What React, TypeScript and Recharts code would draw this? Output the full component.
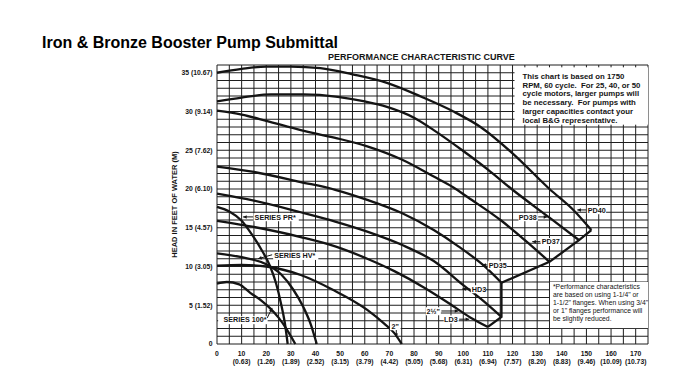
import React from 'react';
import { LineChart, Line, XAxis, YAxis, CartesianGrid, ReferenceArea, ReferenceDot } from 'recharts';

const FONT = '"Liberation Sans", Arial, Helvetica, sans-serif';
const INK = '#141414';

// pump curves, flow in US gpm / head in feet
const PD40_Q = [0, 10, 20, 30, 42, 55, 69, 83, 96, 107, 120, 135, 145, 152];
const PD40_H = [35.0, 35.5, 35.8, 35.8, 35.6, 34.8, 33.7, 31.9, 30.0, 28.0, 24.6, 20.0, 17.2, 14.7];

const PD38_Q = [0, 10, 22, 35, 49, 60, 69, 80, 88, 100, 110, 120, 135, 147];
const PD38_H = [31.3, 31.8, 32.2, 32.2, 31.9, 31.3, 30.6, 29.2, 27.6, 24.9, 22.5, 19.9, 16.3, 13.4];

const PD37_Q = [0, 10, 20, 34, 48, 61, 75, 88, 96, 102, 115.5, 125, 135];
const PD37_H = [30.1, 29.6, 28.8, 27.6, 26.6, 25.5, 23.8, 21.6, 20.2, 18.9, 15.9, 13.4, 10.6];

const PD35_Q = [0, 15, 34, 48, 61, 75, 88, 98, 108, 115.5];
const PD35_H = [22.9, 22.2, 20.9, 19.9, 18.6, 16.9, 14.7, 12.6, 10.2, 7.9];

const HD3_Q = [0, 15, 34, 48, 61, 75, 88, 100, 108, 115.5];
const HD3_H = [19.4, 18.5, 17.0, 15.8, 14.5, 12.8, 10.7, 7.6, 5.6, 3.5];

const LD3_Q = [0, 15, 34, 48, 61, 72, 84, 94, 103, 110];
const LD3_H = [15.9, 15.1, 13.8, 12.6, 11.0, 9.4, 7.3, 5.3, 3.4, 2.2];

const PR_Q = [0, 5, 10, 14, 18, 21.6, 24, 26, 27.5, 28.7];
const PR_H = [17.7, 17.1, 15.9, 14.2, 12.2, 10.0, 7.8, 5.2, 2.8, 0];

const HV_Q = [0, 10, 20, 26, 31, 35, 38, 40.5];
const HV_H = [11.7, 11.2, 10.3, 9.0, 7.0, 4.8, 2.6, 0];

const TWO_Q = [0, 10, 20, 34, 47, 61, 68, 72, 75];
const TWO_H = [10.1, 10.2, 10.0, 8.9, 7.0, 4.4, 2.6, 1.4, 0];

const S100_Q = [0, 4, 9, 13.5, 18, 21.6, 25, 28.5, 31.8];
const S100_H = [7.8, 8.0, 7.7, 6.6, 5.6, 4.6, 3.4, 1.8, 0];

// end-of-curve limit lines
const LOW_EDGE_Q = [110, 115.5, 115.5];
const LOW_EDGE_H = [2.2, 3.5, 7.9];
const TOP_EDGE_Q = [115.5, 135, 147, 152];
const TOP_EDGE_H = [7.9, 10.6, 13.4, 14.7];

// axes
const GRID_FLOW = [0, 5, 10, 15, 20, 25, 30, 35, 40, 45, 50, 55, 60, 65, 70, 75, 80, 85, 90, 95, 100, 105, 110, 115, 120, 125, 130, 135, 140, 145, 150, 155, 160, 165, 170, 175];
const GRID_HEAD = [0, 1, 2, 3, 4, 5, 6, 7, 8, 9, 10, 11, 12, 13, 14, 15, 16, 17, 18, 19, 20, 21, 22, 23, 24, 25, 26, 27, 28, 29, 30, 31, 32, 33, 34, 35, 36];
const FLOW_TICKS = [0, 10, 20, 30, 40, 50, 60, 70, 80, 90, 100, 110, 120, 130, 140, 150, 160, 170];
const FLOW_METRIC = ['', '(0.63)', '(1.26)', '(1.89)', '(2.52)', '(3.15)', '(3.79)', '(4.42)', '(5.05)', '(5.68)', '(6.31)', '(6.94)', '(7.57)', '(8.20)', '(8.83)', '(9.46)', '(10.09)', '(10.73)'];
const HEAD_TICKS = [0, 5, 10, 15, 20, 25, 30, 35];
const HEAD_METRIC = ['', '(1.52)', '(3.05)', '(4.57)', '(6.10)', '(7.62)', '(9.14)', '(10.67)'];

const NOTE_TOP = [
  'This chart is based on 1750',
  'RPM, 60 cycle.  For 25, 40, or 50',
  'cycle motors, larger pumps will',
  'be necessary.  For pumps with',
  'larger capacities contact your',
  'local B&G representative.',
];
const NOTE_BOTTOM = [
  '*Performance characteristics',
  'are based on using 1-1/4" or',
  '1-1/2" flanges. When using 3/4"',
  'or 1" flanges performance will',
  'be slightly reduced.',
];

const toPts = (q: number[], h: number[]) => q.map((v, i) => ({ q: v, h: h[i] }));

const CURVES = [
  { id: 'PD40', pts: toPts(PD40_Q, PD40_H), type: 'monotone' },
  { id: 'PD38', pts: toPts(PD38_Q, PD38_H), type: 'monotone' },
  { id: 'PD37', pts: toPts(PD37_Q, PD37_H), type: 'monotone' },
  { id: 'PD35', pts: toPts(PD35_Q, PD35_H), type: 'monotone' },
  { id: 'HD3', pts: toPts(HD3_Q, HD3_H), type: 'monotone' },
  { id: 'LD3', pts: toPts(LD3_Q, LD3_H), type: 'monotone' },
  { id: 'PR', pts: toPts(PR_Q, PR_H), type: 'monotone' },
  { id: 'HV', pts: toPts(HV_Q, HV_H), type: 'monotone' },
  { id: 'TWO', pts: toPts(TWO_Q, TWO_H), type: 'monotone' },
  { id: 'S100', pts: toPts(S100_Q, S100_H), type: 'monotone' },
  { id: 'LOW', pts: toPts(LOW_EDGE_Q, LOW_EDGE_H), type: 'linear' },
  { id: 'TOP', pts: toPts(TOP_EDGE_Q, TOP_EDGE_H), type: 'linear' },
];

// callouts: arrow tip sits on the curve (data coords)
const CALLOUTS = [
  { text: 'SERIES PR*', q: 10.6, h: 16.4, dir: 'left', len: 10 },
  { text: 'SERIES HV*', q: 16.7, h: 11.0, dir: 'hv', len: 14 },
  { text: 'SERIES 100*', q: 22.4, h: 4.65, dir: 'sw', len: 10 },
  { text: '2"', q: 72.8, h: 0.9, dir: 'down', len: 7 },
  { text: '2½"', q: 98, h: 4.26, dir: 'right', len: 17 },
  { text: 'LD3', q: 102.4, h: 3.2, dir: 'right', len: 10 },
  { text: 'HD3', q: 99.6, h: 7.1, dir: 'left', len: 8 },
  { text: 'PD35', q: 107.7, h: 10.2, dir: 'left', len: 5 },
  { text: 'PD37', q: 128, h: 13.2, dir: 'left', len: 8 },
  { text: 'PD38', q: 134.1, h: 16.4, dir: 'right', len: 9 },
  { text: 'PD40', q: 146.3, h: 17.3, dir: 'left', len: 9 },
];

const LABEL_SIZE = 7.2;
const labelStyle = { fontFamily: FONT, fontSize: LABEL_SIZE, fontWeight: 'bold' as const, fill: INK };

// white patch behind a callout label so the grid does not run through it
const Patch = ({ x, y, text, anchor }: any) => {
  const w = text.length * LABEL_SIZE * 0.6 + 2;
  const left = anchor === 'end' ? x - w + 1 : anchor === 'middle' ? x - w / 2 : x - 1;
  return <rect x={left} y={y - 6.3} width={w} height={8} fill="#fff" />;
};

const Callout = ({ cx, cy, text, dir, len }: any) => {
  if (cx == null || cy == null) return <g />;
  const head = (tx: number, ty: number, ang: number) => {
    const a = (ang * Math.PI) / 180;
    const p1 = [tx + 4 * Math.cos(a + 0.45), ty + 4 * Math.sin(a + 0.45)];
    const p2 = [tx + 4 * Math.cos(a - 0.45), ty + 4 * Math.sin(a - 0.45)];
    return <path d={`M${tx},${ty}L${p1[0]},${p1[1]}L${p2[0]},${p2[1]}Z`} fill={INK} />;
  };
  let shaft: [number, number, number, number];
  let ang: number;
  let tx: number;
  let ty: number;
  let anchor = 'start';
  if (dir === 'left') {
    shaft = [cx, cy, cx + len, cy];
    ang = 0;
    tx = cx + len + 1.5;
    ty = cy + 2.6;
  } else if (dir === 'right') {
    shaft = [cx - len, cy, cx, cy];
    ang = 180;
    tx = cx - len - 1.5;
    ty = cy + 2.6;
    anchor = 'end';
  } else if (dir === 'down') {
    shaft = [cx, cy - len, cx, cy];
    ang = -90;
    tx = cx - 1;
    ty = cy - len - 1.5;
    anchor = 'middle';
  } else if (dir === 'hv') {
    shaft = [cx, cy, cx + len, cy - 4];
    ang = -16;
    tx = cx + len + 2;
    ty = cy - 0.5;
  } else {
    shaft = [cx - 5, cy + len, cx, cy];
    ang = 117;
    tx = cx - 5.5;
    ty = cy + len + 4.5;
    anchor = 'end';
  }
  return (
    <g>
      <Patch x={tx} y={ty} text={text} anchor={anchor} />
      <line x1={shaft[0]} y1={shaft[1]} x2={shaft[2]} y2={shaft[3]} stroke={INK} strokeWidth={1} />
      {head(cx, cy, ang)}
      <text x={tx} y={ty} textAnchor={anchor as any} {...labelStyle}>{text}</text>
    </g>
  );
};

const FlowTick = ({ x, y, payload }: any) => {
  const i = FLOW_TICKS.indexOf(payload.value);
  if (i < 0) return <g />;
  const st = { fontFamily: FONT, fontSize: 6.8, fontWeight: 'bold' as const, fill: INK };
  return (
    <g>
      <text x={x} y={y + 12} textAnchor="middle" {...st}>{FLOW_TICKS[i]}</text>
      {FLOW_METRIC[i] && (
        <text x={x} y={y + 19.5} textAnchor="middle" {...st}>{FLOW_METRIC[i]}</text>
      )}
    </g>
  );
};

const HeadTick = ({ x, y, payload }: any) => {
  const i = HEAD_TICKS.indexOf(payload.value);
  if (i < 0) return <g />;
  const label = HEAD_METRIC[i] ? `${HEAD_TICKS[i]} ${HEAD_METRIC[i]}` : `${HEAD_TICKS[i]}`;
  return (
    <text x={x - 4.5} y={y + 2.4} textAnchor="end" fontFamily={FONT} fontSize={6.8} fontWeight="bold" fill={INK}>
      {label}
    </text>
  );
};

const NoteBox = ({ x, y, width, height, lines, bold, size, lead, padX, padY }: any) => (
  <g>
    <rect x={x} y={y} width={width} height={height} fill="#fff" />
    <text fontFamily={FONT} fontSize={size} fontWeight={bold ? 'bold' : 'normal'} fill={INK} style={{ whiteSpace: 'pre' }}>
      {lines.map((l: string, i: number) => (
        <tspan key={i} x={x + padX} y={y + padY + i * lead}>{l}</tspan>
      ))}
    </text>
  </g>
);

export default function App() {
  return (
    <div style={{ position: 'fixed', left: 0, top: 0, width: 676, height: 367, background: '#fff' }}>
      <LineChart width={676} height={367} margin={{ top: 65, right: 28, bottom: 0, left: 0 }}>
        <CartesianGrid stroke="#1e1e1e" strokeWidth={1} />
        <XAxis
          type="number"
          dataKey="q"
          domain={[0, 175]}
          ticks={GRID_FLOW}
          interval={0}
          tick={<FlowTick />}
          tickLine={false}
          axisLine={false}
          tickSize={0}
          tickMargin={0}
          height={23}
        />
        <YAxis
          type="number"
          dataKey="h"
          domain={[0, 36]}
          ticks={GRID_HEAD}
          interval={0}
          tick={<HeadTick />}
          tickLine={false}
          axisLine={false}
          tickSize={0}
          tickMargin={0}
          width={217}
        />
        <ReferenceArea
          x1={120.8}
          x2={175}
          y1={28.3}
          y2={35.7}
          shape={(p: any) => (
            <NoteBox {...p} lines={NOTE_TOP} bold size={7.8} lead={8.8} padX={8} padY={11.5} />
          )}
        />
        <ReferenceArea
          x1={135.2}
          x2={175}
          y1={2.05}
          y2={8.0}
          shape={(p: any) => (
            <NoteBox {...p} lines={NOTE_BOTTOM} size={6.8} lead={7.9} padX={3} padY={7.2} />
          )}
        />
        {CURVES.map((c) => (
          <Line
            key={c.id}
            data={c.pts}
            dataKey="h"
            type={c.type as any}
            stroke={INK}
            strokeWidth={2.3}
            dot={false}
            activeDot={false}
            isAnimationActive={false}
          />
        ))}
        {CALLOUTS.map((c) => (
          <ReferenceDot
            key={c.text}
            x={c.q}
            y={c.h}
            r={0}
            shape={(p: any) => <Callout cx={p.cx} cy={p.cy} text={c.text} dir={c.dir} len={c.len} />}
          />
        ))}
      </LineChart>
      <svg width={676} height={367} style={{ position: 'absolute', left: 0, top: 0, pointerEvents: 'none' }}>
        <text x={42} y={47.5} fontFamily={FONT} fontSize={16} fontWeight="bold" fill="#000">
          Iron &amp; Bronze Booster Pump Submittal
        </text>
        <text x={328} y={60.3} fontFamily={FONT} fontSize={9} fontWeight="bold" fill={INK}>
          PERFORMANCE CHARACTERISTIC CURVE
        </text>
        <text
          transform="translate(177.2,204.5) rotate(-90)"
          textAnchor="middle"
          fontFamily={FONT}
          fontSize={7.5}
          fontWeight="bold"
          fill={INK}
        >
          HEAD IN FEET OF WATER (M)
        </text>
      </svg>
    </div>
  );
}
